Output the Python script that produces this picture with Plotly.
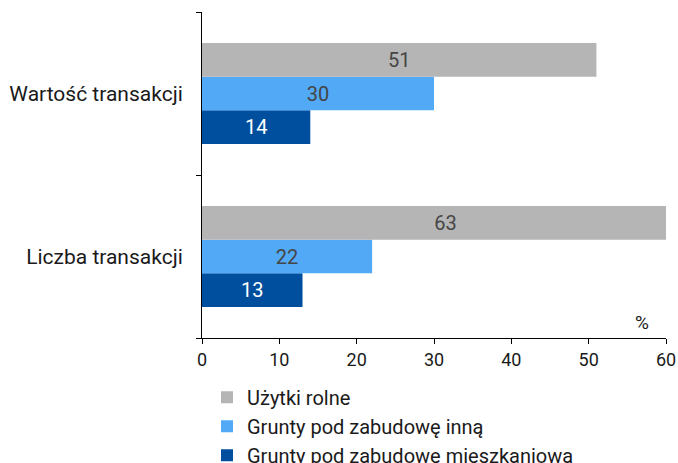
import plotly.graph_objects as go

categories = ["Wartość transakcji", "Liczba transakcji"]
series_names = ["Użytki rolne", "Grunty pod zabudowę inną", "Grunty pod zabudowę mieszkaniową"]
uzytki_rolne = [51, 63]
grunty_inne = [30, 22]
grunty_mieszkaniowe = [14, 13]
x_ticks = [0, 10, 20, 30, 40, 50, 60]

colors = ["#b5b5b5", "#52aaf6", "#004f9e"]
text_colors = ["#454545", "#454545", "#ffffff"]
values = [uzytki_rolne, grunty_inne, grunty_mieszkaniowe]

font_family = "Roboto, Noto Sans, sans-serif"

fig = go.Figure()
# add in reverse so the grey bar sits on top of each group
for i, (name, vals, col, tcol) in reversed(list(enumerate(zip(series_names, values, colors, text_colors)))):
    fig.add_trace(go.Bar(
        y=categories, x=vals, name=name, orientation="h",
        legendgroup=f"g{i}", legendrank=i + 1,
        marker=dict(color=col, line=dict(width=0)),
        text=[str(v) for v in vals], textposition="inside",
        insidetextanchor="middle", constraintext="none",
        textfont=dict(family=font_family, size=20, color=tcol),
        cliponaxis=True,
    ))

plot_w = 678 - 202 - 12
fig.update_layout(
    width=678, height=463,
    margin=dict(l=202, r=12, t=12, b=125, autoexpand=False),
    paper_bgcolor="white", plot_bgcolor="white",
    barmode="group", bargap=0.38, bargroupgap=0,
    showlegend=True,
    legend=dict(
        orientation="v", traceorder="grouped",
        x=(207 - 202) / plot_w, xanchor="left", y=-0.122, yanchor="top",
        font=dict(family=font_family, size=20, color="#1a1a1a"),
        tracegroupgap=0, itemwidth=30, bgcolor="rgba(0,0,0,0)",
    ),
    xaxis=dict(
        range=[0, 60], tickvals=x_ticks, showgrid=False, zeroline=False,
        showline=True, linecolor="#000000", linewidth=1,
        ticks="outside", ticklen=5, tickcolor="#000000",
        tickfont=dict(family=font_family, size=18, color="#1a1a1a"),
        automargin=False,
    ),
    yaxis=dict(
        categoryorder="array", categoryarray=categories[::-1],
        showgrid=False, zeroline=False,
        showline=True, linecolor="#000000", linewidth=1,
        ticks="outside", ticklen=5, tickcolor="#000000", tickson="boundaries",
        tickfont=dict(family=font_family, size=21, color="#1a1a1a"),
        ticklabelstandoff=14, automargin=False,
    ),
    annotations=[dict(
        text="%", x=60, y=0, xref="x", yref="paper", xanchor="right", yanchor="bottom",
        xshift=-15, yshift=2, showarrow=False,
        font=dict(family=font_family, size=19, color="#1a1a1a"),
    )],
)

fig.write_html("out.html")
